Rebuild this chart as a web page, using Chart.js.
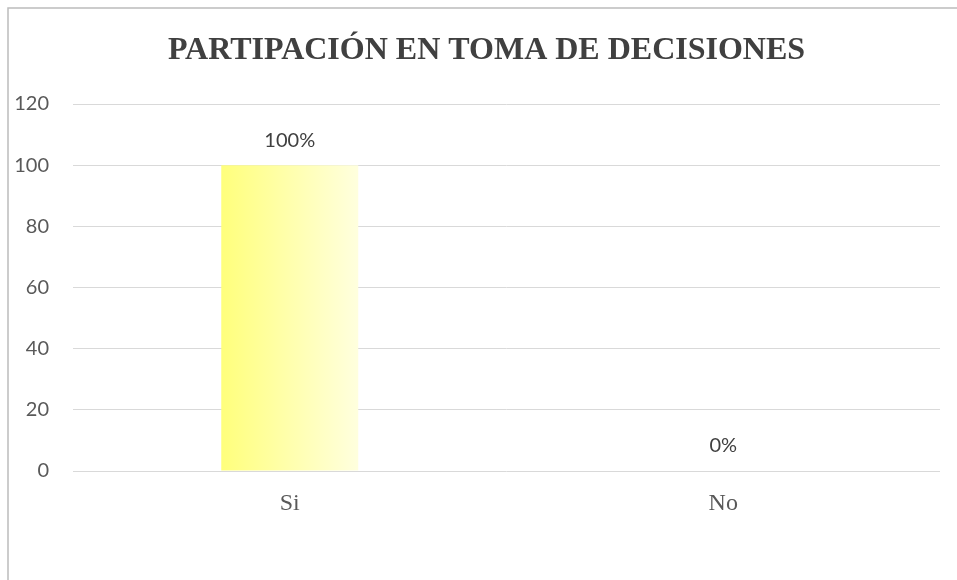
<!DOCTYPE html>
<html>
<head>
<meta charset="utf-8">
<script src="https://cdn.jsdelivr.net/npm/chart.js@4/dist/chart.umd.min.js"></script>
<style>
  html, body { margin: 0; padding: 0; background: #ffffff; }
  canvas { display: block; }
</style>
</head>
<body>
<canvas id="c" width="957" height="580"></canvas>
<script>
const titleText = 'PARTIPACIÓN EN TOMA DE DECISIONES';
const categories = ['Si', 'No'];
const values = [100, 0];
const valueLabels = ['100%', '0%'];
const yMin = 0, yMax = 120, yStep = 20;

const BAR_PCT = 0.316;

const borderPlugin = {
  id: 'frame',
  beforeDraw(chart) {
    const c = chart.ctx;
    c.save();
    c.fillStyle = '#ffffff';
    c.fillRect(0, 0, chart.width, chart.height);
    c.strokeStyle = '#bcbcbc';
    c.lineWidth = 1.5;
    c.strokeRect(8, 8, chart.width + 20, chart.height + 20);
    c.restore();
  }
};

const labelPlugin = {
  id: 'valueLabels',
  afterDatasetsDraw(chart) {
    const c = chart.ctx;
    const meta = chart.getDatasetMeta(0);
    c.save();
    c.font = '20px Lato';
    c.fillStyle = '#404040';
    c.textAlign = 'center';
    c.textBaseline = 'middle';
    meta.data.forEach((el, i) => {
      c.fillText(valueLabels[i], el.x, el.y - 25);
    });
    c.restore();
  }
};

new Chart(document.getElementById('c'), {
  type: 'bar',
  data: {
    labels: categories,
    datasets: [{
      data: values,
      barPercentage: BAR_PCT,
      categoryPercentage: 1,
      borderWidth: 0,
      backgroundColor(ctx) {
        const chart = ctx.chart;
        const area = chart.chartArea;
        if (!area) return '#ffff80';
        const xs = chart.scales.x;
        const cx = xs.getPixelForValue(ctx.dataIndex);
        const w = (area.right - area.left) / categories.length * BAR_PCT;
        const g = chart.ctx.createLinearGradient(cx - w / 2, 0, cx + w / 2, 0);
        g.addColorStop(0, '#ffff7c');
        g.addColorStop(1, '#ffffde');
        return g;
      }
    }]
  },
  options: {
    responsive: false,
    animation: false,
    devicePixelRatio: 1,
    layout: { padding: { left: 0, right: 0, top: 0, bottom: 0 } },
    plugins: {
      legend: { display: false },
      tooltip: { enabled: false },
      title: {
        display: true,
        text: '\u00A0\u00A0' + titleText,
        color: '#404040',
        font: { family: '"Liberation Serif", "Times New Roman", serif', size: 32, weight: 'bold', lineHeight: 1.2 },
        padding: { top: 32, bottom: 33.6 }
      }
    },
    scales: {
      x: {
        grid: { display: false, drawTicks: false },
        border: { display: false },
        ticks: {
          color: '#595959',
          font: { family: '"Liberation Serif", "Times New Roman", serif', size: 24 },
          padding: 18,
          maxRotation: 0
        },
        afterFit(scale) { scale.height = 109; }
      },
      y: {
        min: yMin,
        max: yMax,
        grid: { color: '#d9d9d9', lineWidth: 1, drawTicks: false },
        border: { display: false },
        ticks: {
          stepSize: yStep,
          color: '#595959',
          font: { family: 'Lato', size: 20 },
          padding: 24
        },
        afterFit(scale) { scale.width = 73; }
      },
      yRight: {
        position: 'right',
        display: true,
        min: yMin,
        max: yMax,
        grid: { display: false, drawTicks: false },
        border: { display: false },
        ticks: { display: false },
        afterFit(scale) { scale.width = 17; }
      }
    }
  },
  plugins: [borderPlugin, labelPlugin]
});
</script>
</body>
</html>
